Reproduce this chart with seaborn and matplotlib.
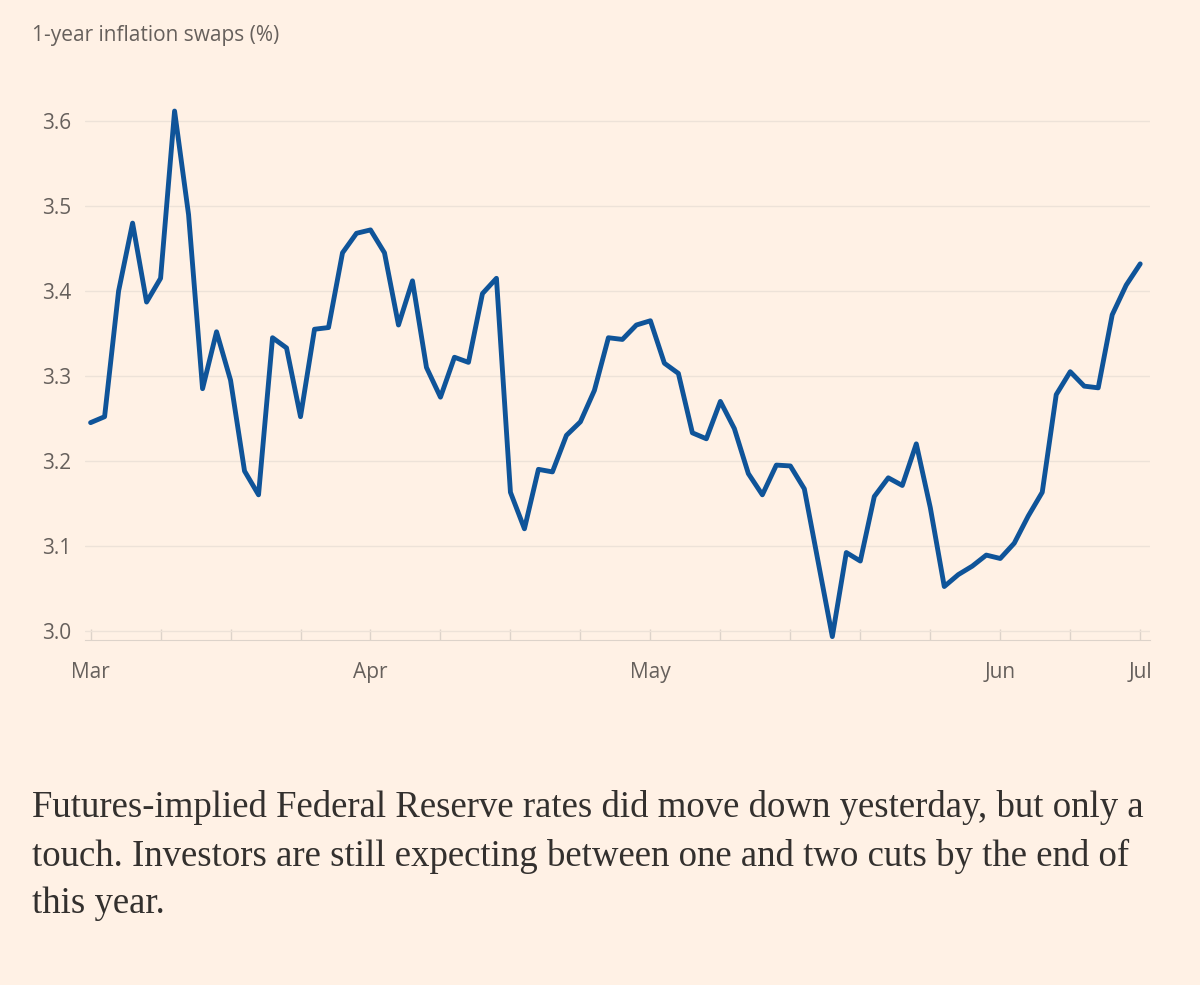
import matplotlib
matplotlib.use("Agg")
import matplotlib.pyplot as plt
import seaborn as sns
import pandas as pd

# 1-year inflation swaps, one value per trading day
swaps = [3.245, 3.252, 3.40, 3.48, 3.387, 3.415, 3.612, 3.49, 3.285, 3.352,
         3.295, 3.188, 3.16, 3.345, 3.333, 3.252, 3.355, 3.357, 3.445, 3.468,
         3.472, 3.445, 3.36, 3.412, 3.31, 3.275, 3.322, 3.316, 3.397, 3.415,
         3.163, 3.12, 3.19, 3.187, 3.23, 3.246, 3.283, 3.345, 3.343, 3.36,
         3.365, 3.315, 3.303, 3.233, 3.226, 3.27, 3.238, 3.185, 3.16, 3.195,
         3.194, 3.167, 3.08, 2.993, 3.092, 3.082, 3.158, 3.18, 3.171, 3.22,
         3.145, 3.052, 3.066, 3.076, 3.089, 3.085, 3.103, 3.135, 3.163, 3.278,
         3.305, 3.288, 3.286, 3.372, 3.407, 3.432]
month_labels = ["Mar", "Apr", "May", "Jun", "Jul"]
month_pos = [0, 20, 40, 65, 75]
y_ticks = [3.0, 3.1, 3.2, 3.3, 3.4, 3.5, 3.6]

df = pd.DataFrame({"day": range(len(swaps)), "swap": swaps})

bg = "#FFF1E5"
sns.set_style("white")
plt.rcParams["font.family"] = ["Open Sans", "DejaVu Sans"]

fig = plt.figure(figsize=(12, 9.85), dpi=100, facecolor=bg)
ax = fig.add_axes([85 / 1200, 1 - 640 / 985, (1150 - 85) / 1200, 540 / 985])
ax.set_facecolor(bg)

sns.lineplot(data=df, x="day", y="swap", ax=ax, color="#0F5499", linewidth=3.5)

ax.set_xlim(-0.4, 75.7)
ax.set_ylim(2.989, 3.625)
ax.set_yticks(y_ticks)
ax.set_yticklabels([f"{v:.1f}" for v in y_ticks], fontsize=15, color="#66605C")
ax.set_xticks(month_pos)
ax.set_xticklabels(month_labels, fontsize=15, color="#66605C")
ax.set_xticks(range(0, 76, 5), minor=True)
ax.tick_params(axis="y", length=0, pad=10)
ax.tick_params(axis="x", which="both", bottom=True, length=8, width=1,
               color="#DDD3CA", pad=16, direction="in")
ax.grid(axis="y", color="#EDE2D8", linewidth=1)
for s in ["top", "right", "left"]:
    ax.spines[s].set_visible(False)
ax.spines["bottom"].set_color("#DDD3CA")
ax.set_xlabel("")
ax.set_ylabel("")

fig.text(32 / 1200, 1 - 35 / 985, "1-year inflation swaps (%)", fontsize=15,
         color="#66605C", va="center")

caption = ("Futures-implied Federal Reserve rates did move down yesterday, but only a\n"
           "touch. Investors are still expecting between one and two cuts by the end of\n"
           "this year.")
fig.text(32 / 1200, 1 - 790 / 985, caption, fontsize=26.5, color="#33302E",
         family=["Liberation Serif", "DejaVu Serif"], va="top", linespacing=1.5)

fig.savefig("out.png", dpi=100, facecolor=bg)
